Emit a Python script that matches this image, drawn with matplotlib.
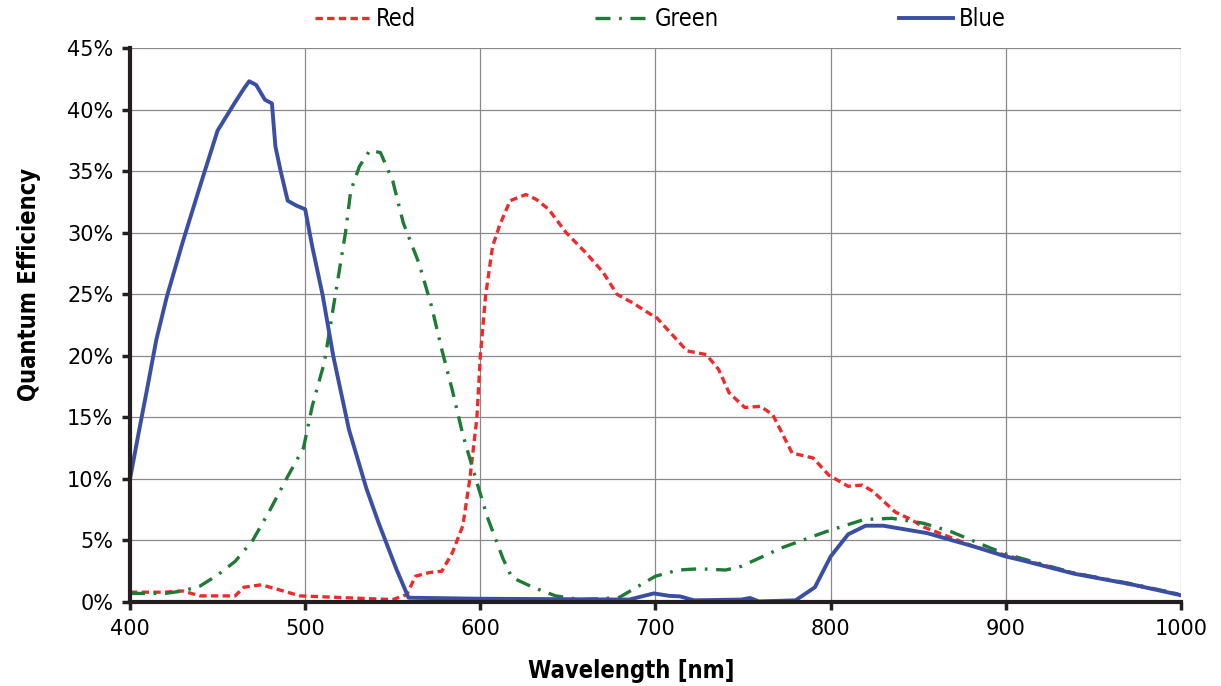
import matplotlib.pyplot as plt
from matplotlib import font_manager
from matplotlib.ticker import FuncFormatter

# --- DADOS ---
blue_nm = [400, 405, 410, 415, 421, 430, 440, 450, 460, 465, 468, 472, 477, 481, 483,
           486, 490, 495, 500, 504, 510, 516, 525, 535, 542, 552, 559, 599, 685, 699,
           708, 714, 722, 749, 754, 759, 780, 791, 800, 810, 820, 830, 855, 882, 900,
           909, 939, 973, 1000]
blue_qe = [10.0, 13.8, 17.5, 21.3, 24.8, 29.2, 33.8, 38.3, 40.6, 41.7, 42.3, 42.0, 40.8,
           40.5, 37.0, 35.0, 32.6, 32.2, 31.9, 28.9, 24.9, 20.0, 14.0, 9.2, 6.4, 2.7,
           0.35, 0.27, 0.2, 0.7, 0.5, 0.46, 0.14, 0.2, 0.33, 0.05, 0.14, 1.2, 3.7, 5.5,
           6.2, 6.2, 5.6, 4.5, 3.7, 3.4, 2.3, 1.4, 0.55]

green_nm = [400, 410, 420, 430, 440, 450, 460, 470, 480, 490, 499, 504, 511, 515, 519,
            523, 526, 531, 537, 543, 550, 556, 565, 572, 578, 584, 590, 597, 604, 613,
            618, 630, 643, 657, 679, 700, 713, 725, 740, 749, 772, 797, 819, 835, 853,
            869, 891, 900, 939, 973, 1000]
green_qe = [0.7, 0.7, 0.7, 0.9, 1.3, 2.2, 3.3, 5.0, 7.5, 10.2, 12.5, 15.9, 19.5, 23.0,
            26.5, 30.0, 33.4, 35.4, 36.7, 36.5, 34.2, 30.8, 27.5, 24.1, 20.5, 17.2, 13.6,
            10.2, 6.9, 3.5, 2.0, 1.2, 0.5, 0.2, 0.35, 2.1, 2.6, 2.7, 2.6, 2.9, 4.4, 5.7,
            6.7, 6.8, 6.4, 5.7, 4.4, 3.9, 2.35, 1.45, 0.6]

red_nm = [400, 420, 430, 440, 460, 465, 475, 485, 497, 523, 550, 558, 563, 571, 578,
          584, 590, 594, 598, 600, 603, 607, 611, 617, 626, 632, 639, 649, 660, 670,
          678, 687, 698, 700, 718, 729, 736, 742, 751, 760, 767, 778, 790, 799, 810,
          818, 824, 837, 846, 853, 882, 900, 939, 1000]
red_qe = [0.8, 0.8, 0.9, 0.5, 0.5, 1.2, 1.4, 1.0, 0.5, 0.35, 0.2, 0.6, 2.1, 2.4, 2.5,
          4.0, 6.2, 10.0, 14.9, 20.0, 24.9, 28.9, 30.6, 32.6, 33.1, 32.7, 31.9, 30.0,
          28.4, 26.8, 25.0, 24.3, 23.3, 23.2, 20.4, 20.1, 18.9, 17.0, 15.8, 15.9, 15.2,
          12.1, 11.7, 10.3, 9.4, 9.5, 9.0, 7.3, 6.7, 6.1, 4.5, 3.8, 2.35, 0.6]

x_ticks = [400, 500, 600, 700, 800, 900, 1000]
y_ticks = [0, 5, 10, 15, 20, 25, 30, 35, 40, 45]

# fonte condensada para títulos e legenda
cond_bold = font_manager.FontProperties(family="DejaVu Sans", stretch="condensed",
                                        weight="bold", size=17)
cond = font_manager.FontProperties(family="DejaVu Sans", stretch="condensed", size=17)

# --- FIGURA ---
fig = plt.figure(figsize=(12.21, 6.86), dpi=100)
ax = fig.add_axes([0.1065, 0.1224, 0.8607, 0.8076])

ax.plot(red_nm, red_qe, color="#f02a2a", linewidth=2.4, dashes=(2.2, 1.3), label="Red")
ax.plot(green_nm, green_qe, color="#1f7a35", linewidth=2.4, dashes=(4.5, 2.6, 0.8, 2.6),
        label="Green")
ax.plot(blue_nm, blue_qe, color="#3a4fa3", linewidth=2.8, label="Blue")

ax.set_xlim(400, 1000)
ax.set_ylim(0, 45)
ax.set_xticks(x_ticks)
ax.set_yticks(y_ticks)
ax.yaxis.set_major_formatter(FuncFormatter(lambda v, p: f"{v:.0f}%"))

ax.grid(True, color="#8a8a8a", linewidth=0.9)
ax.set_axisbelow(True)
for s in ["top", "right"]:
    ax.spines[s].set_visible(False)
for s in ["left", "bottom"]:
    ax.spines[s].set_linewidth(3)
    ax.spines[s].set_color("#231f20")
ax.tick_params(direction="out", length=6, width=2.5, color="#231f20",
               labelsize=15, pad=6)

ax.set_xlabel("Wavelength [nm]", fontproperties=cond_bold)
ax.set_ylabel("Quantum Efficiency", fontproperties=cond_bold)
ax.xaxis.set_label_coords(0.477, -0.103)
ax.yaxis.set_label_coords(-0.085, 0.574)

fig.legend(loc="center", bbox_to_anchor=(0.541, 1 - 19 / 686), ncol=3, frameon=False,
           prop=cond, handlelength=2.3, handletextpad=0.25, columnspacing=7.6,
           borderaxespad=0)

plt.savefig("out.png", dpi=100)
